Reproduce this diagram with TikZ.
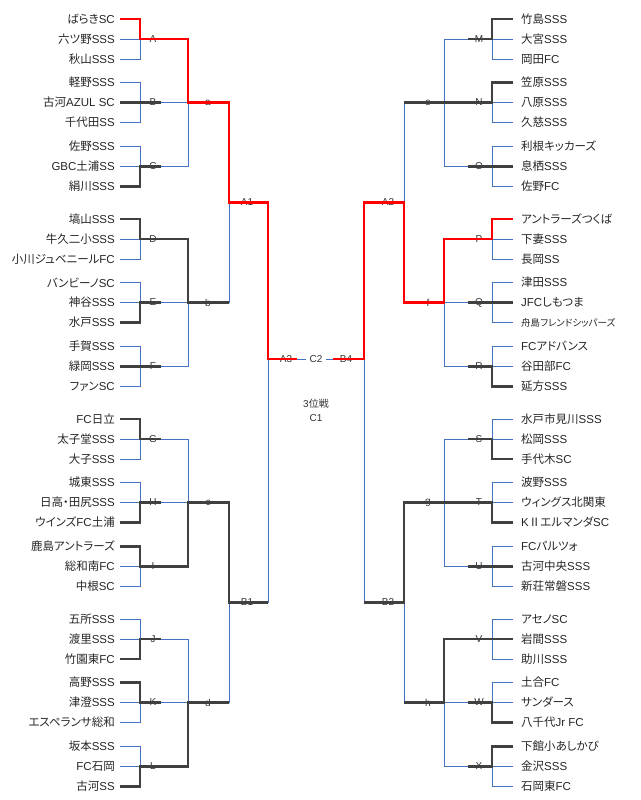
\documentclass[tikz,border=0pt]{standalone}
\usepackage{fontspec}
\setmainfont{Liberation Sans}
\newfontfamily\jp{Noto Sans CJK JP}[RawFeature=+palt]
\definecolor{bl}{HTML}{4472C4}
\definecolor{dk}{HTML}{404040}
\definecolor{rd}{HTML}{FF0000}
\definecolor{txt}{HTML}{262626}
\definecolor{labc}{HTML}{333333}
\newcommand\LT[3]{\node[team,anchor=east] (#1) at (115,#2) {#3};}
\newcommand\RT[3]{\node[team,anchor=west] (#1) at (521,#2) {#3};}
\begin{document}
\begin{tikzpicture}[x=1pt,y=-1pt,
  team/.style={font=\fontsize{11.5}{12}\selectfont, text=txt, inner sep=0pt},
  smallteam/.style={font=\fontsize{9.5}{11}\selectfont, text=txt, inner sep=0pt},
  lab/.style={font=\fontsize{10}{11}\selectfont, text=labc, inner sep=0pt},
  base/.style={draw=bl, line width=0.9pt},
  win/.style={draw=dk, line width=2.3pt, line join=miter},
  fin/.style={draw=rd, line width=2.6pt, line join=miter}]
\fill[white] (0,0) rectangle (640,800);
\useasboundingbox (0,0) rectangle (640,800);

% ---------- coordinates: left groups
\foreach \g/\y in {A/19,B/82.5,C/146.5,D/219,E/282.5,F/346.5,G/419,H/482.5,I/546.5,J/619,K/682.5,L/746.5}{
  \coordinate (p\g1) at (120,\y);
  \coordinate (p\g2) at (120,\y+20);
  \coordinate (p\g3) at (120,\y+40);
  \coordinate (v\g1) at (140,\y);
  \coordinate (v\g3) at (140,\y+40);
  \coordinate (m\g) at (140,\y+20);
  \coordinate (w\g) at (161,\y+20);
  \coordinate (o\g) at (188,\y+20);
  \node[lab] (l\g) at (153,\y+20) {\g};
}
% ---------- coordinates: right groups
\foreach \g/\y in {M/19,N/82.5,O/146.5,P/219,Q/282.5,R/346.5,S/419,T/482.5,U/546.5,V/619,W/682.5,X/746.5}{
  \coordinate (p\g1) at (513,\y);
  \coordinate (p\g2) at (513,\y+20);
  \coordinate (p\g3) at (513,\y+40);
  \coordinate (v\g1) at (492,\y);
  \coordinate (v\g3) at (492,\y+40);
  \coordinate (m\g) at (492,\y+20);
  \coordinate (w\g) at (468,\y+20);
  \coordinate (o\g) at (444,\y+20);
  \node[lab] (l\g) at (479,\y+20) {\g};
}
% ---------- level 2
\foreach \j/\y in {a/102.5,b/302.5,c/502.5,d/702.5}{
  \coordinate (j\j) at (188,\y);
  \coordinate (o\j) at (229,\y);
  \node[lab] (l\j) at (208,\y) {\j};
}
\foreach \j/\y in {e/102.5,f/302.5,g/502.5,h/702.5}{
  \coordinate (j\j) at (444,\y);
  \coordinate (o\j) at (404,\y);
  \node[lab] (l\j) at (428,\y) {\j};
}
% ---------- level 3 and final
\coordinate (jA1) at (229,202.5); \coordinate (oA1) at (268,202.5);
\coordinate (jB1) at (229,602.5); \coordinate (oB1) at (268,602.5);
\coordinate (jA2) at (404,202.5); \coordinate (oA2) at (364,202.5);
\coordinate (jB2) at (404,602.5); \coordinate (oB2) at (364,602.5);
\coordinate (jA3) at (268,359); \coordinate (oA3) at (297,359);
\coordinate (jB4) at (364,359); \coordinate (oB4) at (333,359);
\node[lab] (lA1) at (247,202.5) {A1};
\node[lab] (lB1) at (247,602.5) {B1};
\node[lab] (lA2) at (388,202.5) {A2};
\node[lab] (lB2) at (388,602.5) {B2};
\node[lab] (lA3) at (286,359) {A3};
\node[lab] (lB4) at (346,359) {B4};
\node[lab] (third) at (316,404) {3{\jp 位戦}};
\node[lab] (lC1) at (316,418) {C1};

% ---------- team names left
\LT{tL1}{19}{{\jp ばらき}SC}
\LT{tL2}{39}{{\jp 六ツ野}SSS}
\LT{tL3}{59}{{\jp 秋山}SSS}
\LT{tL4}{82.5}{{\jp 軽野}SSS}
\LT{tL5}{102.5}{{\jp 古河}AZUL SC}
\LT{tL6}{122.5}{{\jp 千代田}SS}
\LT{tL7}{146.5}{{\jp 佐野}SSS}
\LT{tL8}{166.5}{GBC{\jp 土浦}SS}
\LT{tL9}{186.5}{{\jp 絹川}SSS}
\LT{tL10}{219}{{\jp 塙山}SSS}
\LT{tL11}{239}{{\jp 牛久二小}SSS}
\LT{tL12}{259}{{\jp 小川ジュベニール}FC}
\LT{tL13}{282.5}{{\jp バンビーノ}SC}
\LT{tL14}{302.5}{{\jp 神谷}SSS}
\LT{tL15}{322.5}{{\jp 水戸}SSS}
\LT{tL16}{346.5}{{\jp 手賀}SSS}
\LT{tL17}{366.5}{{\jp 緑岡}SSS}
\LT{tL18}{386.5}{{\jp ファン}SC}
\LT{tL19}{419}{FC{\jp 日立}}
\LT{tL20}{439}{{\jp 太子堂}SSS}
\LT{tL21}{459}{{\jp 大子}SSS}
\LT{tL22}{482.5}{{\jp 城東}SSS}
\LT{tL23}{502.5}{{\jp 日高・田尻}SSS}
\LT{tL24}{522.5}{{\jp ウインズ}FC{\jp 土浦}}
\LT{tL25}{546.5}{{\jp 鹿島アントラーズ}}
\LT{tL26}{566.5}{{\jp 総和南}FC}
\LT{tL27}{586.5}{{\jp 中根}SC}
\LT{tL28}{619}{{\jp 五所}SSS}
\LT{tL29}{639}{{\jp 渡里}SSS}
\LT{tL30}{659}{{\jp 竹園東}FC}
\LT{tL31}{682.5}{{\jp 高野}SSS}
\LT{tL32}{702.5}{{\jp 津澄}SSS}
\LT{tL33}{722.5}{{\jp エスペランサ総和}}
\LT{tL34}{746.5}{{\jp 坂本}SSS}
\LT{tL35}{766.5}{FC{\jp 石岡}}
\LT{tL36}{786.5}{{\jp 古河}SS}
% ---------- team names right
\RT{tR1}{19}{{\jp 竹島}SSS}
\RT{tR2}{39}{{\jp 大宮}SSS}
\RT{tR3}{59}{{\jp 岡田}FC}
\RT{tR4}{82.5}{{\jp 笠原}SSS}
\RT{tR5}{102.5}{{\jp 八原}SSS}
\RT{tR6}{122.5}{{\jp 久慈}SSS}
\RT{tR7}{146.5}{{\jp 利根キッカーズ}}
\RT{tR8}{166.5}{{\jp 息栖}SSS}
\RT{tR9}{186.5}{{\jp 佐野}FC}
\RT{tR10}{219}{{\jp アントラーズつくば}}
\RT{tR11}{239}{{\jp 下妻}SSS}
\RT{tR12}{259}{{\jp 長岡}SS}
\RT{tR13}{282.5}{{\jp 津田}SSS}
\RT{tR14}{302.5}{JFC{\jp しもつま}}
\node[smallteam,anchor=west] (tR15) at (521,322.5) {{\jp 舟島フレンドシッパーズ}};
\RT{tR16}{346.5}{FC{\jp アドバンス}}
\RT{tR17}{366.5}{{\jp 谷田部}FC}
\RT{tR18}{386.5}{{\jp 延方}SSS}
\RT{tR19}{419}{{\jp 水戸市見川}SSS}
\RT{tR20}{439}{{\jp 松岡}SSS}
\RT{tR21}{459}{{\jp 手代木}SC}
\RT{tR22}{482.5}{{\jp 波野}SSS}
\RT{tR23}{502.5}{{\jp ウィングス北関東}}
\RT{tR24}{522.5}{K{\jp Ⅱエルマンダ}SC}
\RT{tR25}{546.5}{FC{\jp パルツォ}}
\RT{tR26}{566.5}{{\jp 古河中央}SSS}
\RT{tR27}{586.5}{{\jp 新荘常磐}SSS}
\RT{tR28}{619}{{\jp アセノ}SC}
\RT{tR29}{639}{{\jp 岩間}SSS}
\RT{tR30}{659}{{\jp 助川}SSS}
\RT{tR31}{682.5}{{\jp 土合}FC}
\RT{tR32}{702.5}{{\jp サンダース}}
\RT{tR33}{722.5}{{\jp 八千代}Jr FC}
\RT{tR34}{746.5}{{\jp 下館小あしかび}}
\RT{tR35}{766.5}{{\jp 金沢}SSS}
\RT{tR36}{786.5}{{\jp 石岡東}FC}

% ---------- base (blue) structure
\foreach \g in {A,B,C,D,E,F,G,H,I,J,K,L,M,N,O,P,Q,R,S,T,U,V,W,X}{
  \draw[base] (p\g1) -- (v\g1) -- (v\g3) -- (p\g3);
  \draw[base] (p\g2) -- (o\g);
}
\draw[base] (oA) -- (oC); \draw[base] (ja) -- (oa);
\draw[base] (oD) -- (oF); \draw[base] (jb) -- (ob);
\draw[base] (oG) -- (oI); \draw[base] (jc) -- (oc);
\draw[base] (oJ) -- (oL); \draw[base] (jd) -- (od);
\draw[base] (oM) -- (oO); \draw[base] (je) -- (oe);
\draw[base] (oP) -- (oR); \draw[base] (jf) -- (of);
\draw[base] (oS) -- (oU); \draw[base] (jg) -- (og);
\draw[base] (oV) -- (oX); \draw[base] (jh) -- (oh);
\draw[base] (oa) -- (ob); \draw[base] (jA1) -- (oA1);
\draw[base] (oc) -- (od); \draw[base] (jB1) -- (oB1);
\draw[base] (oe) -- (of); \draw[base] (jA2) -- (oA2);
\draw[base] (og) -- (oh); \draw[base] (jB2) -- (oB2);
\draw[base] (oA1) -- (oB1); \draw[base] (jA3) -- (oA3);
\draw[base] (oA2) -- (oB2); \draw[base] (jB4) -- (oB4);
\draw[base] (oA3) -- (oB4);
\node[lab, fill=white, inner xsep=4pt, inner ysep=1pt] (lC2) at (316,359) {C2};

% ---------- winners (dark)
\draw[win] (pB2) -- (wB);
\draw[win] (pC3) -- (vC3) -- (mC) -- (wC);
\draw[win] (pD1) -- (vD1) -- (mD) -- (oD) -- (jb) -- (ob);
\draw[win] (pE3) -- (vE3) -- (mE) -- (wE);
\draw[win] (pF2) -- (wF);
\draw[win] (pG1) -- (vG1) -- (mG) -- (wG);
\draw[win] (pH3) -- (vH3) -- (mH) -- (wH);
\draw[win] (pI1) -- (vI1) -- (mI) -- (oI) -- (jc) -- (oc) -- (jB1) -- (oB1);
\draw[win] (pJ3) -- (vJ3) -- (mJ) -- (wJ);
\draw[win] (pK1) -- (vK1) -- (mK) -- (wK);
\draw[win] (pL3) -- (vL3) -- (mL) -- (oL) -- (jd) -- (od);
\draw[win] (pM1) -- (vM1) -- (mM) -- (wM);
\draw[win] (pN1) -- (vN1) -- (mN) -- (je) -- (oe);
\draw[win] (pO2) -- (wO);
\draw[win] (pQ2) -- (wQ);
\draw[win] (pR3) -- (vR3) -- (mR) -- (wR);
\draw[win] (pS3) -- (vS3) -- (mS) -- (wS);
\draw[win] (pT3) -- (vT3) -- (mT) -- (jg) -- (og) -- (jB2) -- (oB2);
\draw[win] (pU2) -- (wU);
\draw[win] (pV2) -- (oV) -- (jh) -- (oh);
\draw[win] (pW3) -- (vW3) -- (mW) -- (wW);
\draw[win] (pX1) -- (vX1) -- (mX) -- (wX);
% ---------- finalists (red)
\draw[fin] (pA1) -- (vA1) -- (mA) -- (oA) -- (ja) -- (oa) -- (jA1) -- (oA1) -- (jA3) -- (oA3);
\draw[fin] (pP1) -- (vP1) -- (mP) -- (oP) -- (jf) -- (of) -- (jA2) -- (oA2) -- (jB4) -- (oB4);
\end{tikzpicture}
\end{document}
